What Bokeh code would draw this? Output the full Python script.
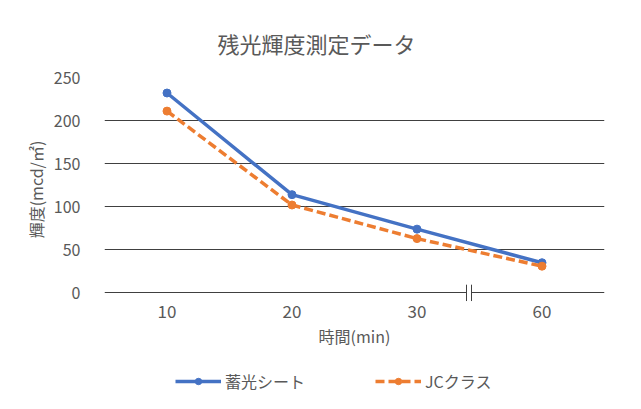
from bokeh.plotting import figure
from bokeh.models import Range1d, FixedTicker, Legend, LegendItem
from bokeh.layouts import column
from bokeh.embed import file_html
from bokeh.resources import INLINE

categories = ["10", "20", "30", "60"]
chikko_sheet = [232, 114, 74, 35]
jc_class = [211, 102, 63, 31]
y_ticks = [0, 50, 100, 150, 200, 250]

title_text = "残光輝度測定データ"
x_label = "時間(min)"
y_label = "輝度(mcd/㎡)"
series_names = ["蓄光シート", "JCクラス"]

FONT = "Noto Sans CJK JP"
TXT = "#595959"
BLUE = "#4472C4"
ORANGE = "#ED7D31"

xs = list(range(len(categories)))

p = figure(width=625, height=360, output_backend="svg", toolbar_location=None,
           x_range=Range1d(-0.5, len(categories) - 0.5), y_range=Range1d(-10, 250),
           min_border_left=104, min_border_right=21, min_border_top=77, min_border_bottom=59,
           title=title_text)
p.outline_line_color = None
p.background_fill_color = "white"
p.border_fill_color = "white"

p.title.align = "left"
p.title.offset = 113
p.title.text_font = FONT
p.title.text_font_size = "22px"
p.title.text_font_style = "normal"
p.title.text_color = TXT
p.title.standoff = 37

# axes
p.xaxis.ticker = FixedTicker(ticks=xs)
p.xaxis.major_label_overrides = {i: c for i, c in enumerate(categories)}
p.xaxis.axis_line_color = None
p.xaxis.major_tick_line_color = None
p.xaxis.minor_tick_line_color = None
p.xaxis.major_label_text_font = FONT
p.xaxis.major_label_text_font_size = "17px"
p.xaxis.major_label_text_color = TXT
p.xaxis.major_label_standoff = -3
p.xaxis.axis_label = x_label
p.xaxis.axis_label_text_font = FONT
p.xaxis.axis_label_text_font_size = "16px"
p.xaxis.axis_label_text_font_style = "normal"
p.xaxis.axis_label_text_color = TXT
p.xaxis.axis_label_standoff = 3

p.yaxis.ticker = FixedTicker(ticks=y_ticks)
p.yaxis.axis_line_color = None
p.yaxis.major_tick_line_color = None
p.yaxis.minor_tick_line_color = None
p.yaxis.major_label_text_font = FONT
p.yaxis.major_label_text_font_size = "16px"
p.yaxis.major_label_text_color = TXT
p.yaxis.major_label_standoff = 18
p.yaxis.axis_label = y_label
p.yaxis.axis_label_text_font = FONT
p.yaxis.axis_label_text_font_size = "16px"
p.yaxis.axis_label_text_font_style = "normal"
p.yaxis.axis_label_text_color = TXT
p.yaxis.axis_label_standoff = 3

p.xgrid.grid_line_color = None
p.ygrid.ticker = FixedTicker(ticks=y_ticks)
p.ygrid.grid_line_color = "#404040"
p.ygrid.grid_line_width = 1

# axis break marker between 30 and 60
bx = 2.416
p.quad(left=[bx - 0.016], right=[bx + 0.016], bottom=[-2], top=[2],
       fill_color="white", line_color=None)
p.segment(x0=[bx - 0.02, bx + 0.02], y0=[-9.5, -9.5], x1=[bx - 0.02, bx + 0.02], y1=[9.5, 9.5],
          line_color="#404040", line_width=1)

# series
p.line(xs, chikko_sheet, line_color=BLUE, line_width=3.5)
p.scatter(xs, chikko_sheet, size=8, fill_color=BLUE, line_color=BLUE)
p.line(xs, jc_class, line_color=ORANGE, line_width=3.5, line_dash="9 4")
p.scatter(xs, jc_class, size=8, fill_color=ORANGE, line_color=ORANGE)

# legend strip below the chart (series re-drawn out of view, only for legend glyphs)
q = figure(width=625, height=33, output_backend="svg", toolbar_location=None,
           x_axis_type=None, y_axis_type=None,
           x_range=Range1d(100, 101), y_range=Range1d(1000, 1001),
           min_border=0, min_border_left=0, min_border_right=0,
           min_border_top=0, min_border_bottom=0)
q.grid.visible = False
q.outline_line_color = None
q.border_fill_color = "white"
q.background_fill_color = "white"
ql1 = q.line(xs, chikko_sheet, line_color=BLUE, line_width=3.5)
qs1 = q.scatter(xs, chikko_sheet, size=8, fill_color=BLUE, line_color=BLUE)
ql2 = q.line(xs, jc_class, line_color=ORANGE, line_width=3.5, line_dash="9 4")
qs2 = q.scatter(xs, jc_class, size=8, fill_color=ORANGE, line_color=ORANGE)

legend = Legend(items=[LegendItem(label=series_names[0], renderers=[ql1, qs1]),
                       LegendItem(label=series_names[1], renderers=[ql2, qs2])],
                orientation="horizontal", location=(71, 0),
                glyph_width=46, glyph_height=16, label_standoff=4, spacing=70,
                label_text_font=FONT, label_text_font_size="16px", label_text_color=TXT,
                border_line_color=None, background_fill_alpha=0, margin=0, padding=4)
q.add_layout(legend)

layout = column(p, q, spacing=0)
open("out.html", "w").write(file_html(layout, INLINE))
